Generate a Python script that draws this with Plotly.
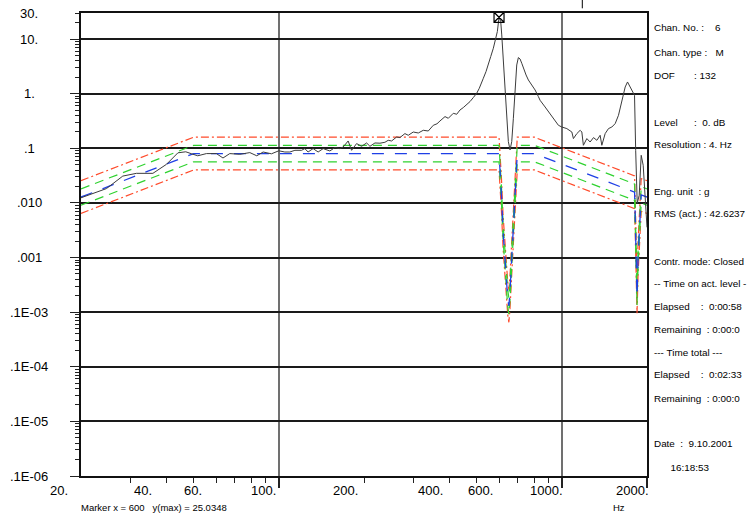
import math
import plotly.graph_objects as go

# ---------------- data ----------------
freq = [20, 24.6, 28.1, 31.4, 35.9, 40.1, 44.0, 46.9, 49.2, 51.7, 55.5, 60.2, 63.5, 67.1, 72.8, 79.0,
        83.6, 88.0, 94.2, 100, 105, 109.4, 114, 120.3, 123.6, 126.9, 132.2, 137.7, 143.5, 151.5, 157.8,
        164.3, 168.8, 175.8, 180.8, 188.3, 196.1, 204.3, 209.9, 218.6, 227.7, 237.1, 243.5, 250.4, 260.8,
        267.9, 279, 286.7, 298.6, 311.1, 323.9, 337.4, 351.4, 362.2, 371.1, 386.6, 397.1, 413.6, 425.2,
        436.8, 448.6, 461.3, 473.8, 486.7, 500.3, 511, 521.2, 528.1, 539.8, 550, 560.8, 572.9, 584.1,
        591.9, 600, 608.4, 613.5, 621.5, 630.2, 638.9, 647.3, 656.3, 665.4, 674.2, 683.6, 693, 702.2,
        712, 721.9, 735.5, 747.6, 761.8, 783.2, 804.6, 826.4, 837.9, 872.8, 909, 946.9, 972.7, 1000,
        1041.6, 1085, 1099, 1130, 1161, 1177, 1192, 1226, 1259, 1294, 1330, 1366, 1385, 1423, 1462,
        1503, 1544, 1586, 1631, 1675, 1707, 1769, 1807, 1824, 1847, 1877, 1908, 1939, 1971, 2000]
response = [0.0124, 0.0183, 0.0310, 0.0348, 0.0348, 0.0509, 0.0827, 0.0863, 0.0793, 0.0729, 0.0800,
            0.0800, 0.0664, 0.0800, 0.0776, 0.0834, 0.0729, 0.0855, 0.0793, 0.0900, 0.0855, 0.0855,
            0.0919, 0.0919, 0.0987, 0.0855, 0.0987, 0.0855, 0.0987, 0.0893, 0.1030, 0.0987, 0.1056,
            0.1361, 0.0919, 0.1219, 0.1088, 0.1251, 0.1088, 0.1251, 0.124, 0.1288, 0.1401, 0.1361,
            0.1611, 0.1570, 0.1858, 0.1730, 0.1988, 0.1906, 0.2136, 0.2074, 0.2637, 0.2810, 0.3162,
            0.3807, 0.3543, 0.4375, 0.4195, 0.5029, 0.5564, 0.6209, 0.7166, 0.8486, 1.017, 1.256,
            1.550, 1.915, 2.540, 3.355, 4.780, 6.784, 9.627, 13.72, 25.0348, 20.9, 11.89, 4.450,
            1.443, 0.4074, 0.1326, 0.0931, 0.1326, 0.3543, 1.256, 3.355, 4.583, 4.320, 3.605, 2.717,
            2.200, 1.782, 1.443, 1.169, 0.8850, 0.7571, 0.5707, 0.4319, 0.3256, 0.2637, 0.2455,
            0.2296, 0.1988, 0.1506, 0.1858, 0.2136, 0.1988, 0.1135, 0.1506, 0.1304, 0.1570, 0.1401,
            0.1730, 0.1135, 0.1858, 0.2296, 0.2455, 0.2834, 0.4022, 0.7047, 1.327, 1.638, 1.154,
            0.9348, 0.0919, 0.00983, 0.01378, 0.0744, 0.0488, 0.01378, 0.00357]
assert len(freq) == len(response), (len(freq), len(response))

profile_freq = [20, 50, 600, 604, 612, 620, 628, 636, 644, 650, 656, 664, 672, 680, 688, 696, 800,
                1808, 1820, 1832, 1844, 1860, 1876, 1892, 1908, 2000]
profile_val = [0.0128, 0.08, 0.08, 0.05, 0.014, 0.003, 0.001, 4.5e-4, 1.8e-4, 1.3e-4, 2.3e-4, 8e-4,
               0.0025, 0.007, 0.02, 0.08, 0.08, 0.0157, 0.004, 9e-4, 1.9e-4, 1e-3, 0.003, 0.007,
               0.0140, 0.0128]
alarm_db = 3.0
abort_db = 6.0

marker_x = 600
marker_y = 25.0348

x_major = [100, 1000, 2000]
x_minor = [30, 40, 50, 60, 70, 80, 90, 200, 300, 400, 500, 600, 700, 800, 900]
x_label_vals = [20, 40, 60, 100, 200, 400, 600, 1000, 2000]
x_label_text = ["20.", "40.", "60.", "100.", "200.", "400.", "600.", "1000.", "2000."]

y_major = [1e-7, 1e-6, 1e-5, 1e-4, 1e-3, 1e-2, 1e-1, 1, 10]
y_label_vals = [30, 10, 1, 0.1, 0.01, 0.001, 1e-4, 1e-5, 1e-6, 1e-7]
y_label_text = ["30.", "10.", "1.", ".1", ".010", ".001", ".1E-03", ".1E-04", ".1E-05", ".1E-06"]

info_text = [
    "Chan. No. :    6",
    "Chan. type :   M",
    "DOF       : 132",
    "Level      :  0. dB",
    "Resolution : 4. Hz",
    "Eng. unit  : g",
    "RMS (act.) : 42.6237",
    "Contr. mode: Closed",
    "-- Time on act. level -",
    "Elapsed    :  0:00:58",
    "Remaining  : 0:00:0",
    "--- Time total ---",
    "Elapsed    :  0:02:33",
    "Remaining  : 0:00:0",
    "Date  :  9.10.2001",
    "      16:18:53",
]
footer_text = "Marker x = 600   y(max) = 25.0348"
unit_text = "Hz"

# ---------------- styling / layout helpers ----------------
W, H = 749, 514
L, R, T, B = 81, 102, 13, 38
PW, PH = W - L - R, H - T - B
FONT = "Liberation Sans, Arial, Helvetica, sans-serif"
NB = "\u00a0"


def px_x(p):
    return (p - L) / PW


def px_y(p):
    return (H - B - p) / PH


def scaled(vals, db):
    k = 10 ** (db / 20.0)
    return [v * k for v in vals]


RED = "#ff4b2b"
GREEN = "#2fd22f"
BLUE = "#1f3fe6"

fig = go.Figure()
limit_specs = [
    (abort_db, RED, "8px,3px,2px,3px"),
    (-abort_db, RED, "8px,3px,2px,3px"),
    (alarm_db, GREEN, "9px,6px"),
    (-alarm_db, GREEN, "9px,6px"),
]
for db, col, dash in limit_specs:
    fig.add_trace(go.Scatter(x=profile_freq, y=scaled(profile_val, db), mode="lines",
                             line=dict(color=col, width=1.2, dash=dash), hoverinfo="skip"))
fig.add_trace(go.Scatter(x=profile_freq, y=profile_val, mode="lines",
                         line=dict(color=BLUE, width=1.3, dash="12px,11px"), hoverinfo="skip"))
fig.add_trace(go.Scatter(x=freq, y=response, mode="lines",
                         line=dict(color="#3c3c3c", width=1)))
fig.add_trace(go.Scatter(x=[marker_x], y=[marker_y], mode="markers", cliponaxis=False,
                         marker=dict(symbol="square-x-open", size=10, color="black",
                                     line=dict(color="black", width=1.2))))

y_minor = [m * 10 ** e for e in range(-7, 1) for m in range(2, 10)] + [20, 30]

fig.update_layout(
    width=W, height=H,
    margin=dict(l=L, r=R, t=T, b=B, pad=0),
    paper_bgcolor="white", plot_bgcolor="white",
    showlegend=False,
    font=dict(family=FONT, color="black"),
    xaxis=dict(type="log", range=[math.log10(20), math.log10(2000)],
               tickmode="array", tickvals=x_major, showticklabels=False,
               ticks="outside", ticklen=10, tickwidth=1.5, tickcolor="#222",
               showgrid=True, gridcolor="#707070", gridwidth=2,
               showline=True, linecolor="#111", linewidth=1.5, mirror=True, zeroline=False,
               minor=dict(tickmode="array", tickvals=x_minor, ticks="outside", ticklen=5,
                          tickwidth=1, tickcolor="#222", showgrid=False)),
    yaxis=dict(type="log", range=[-7, math.log10(30)],
               tickmode="array", tickvals=y_major, showticklabels=False,
               ticks="outside", ticklen=9, tickwidth=1.2, tickcolor="#222",
               showgrid=True, gridcolor="#1a1a1a", gridwidth=1.5,
               showline=True, linecolor="#111", linewidth=1.5, mirror=True, zeroline=False,
               minor=dict(tickmode="array", tickvals=y_minor, ticks="outside", ticklen=4,
                          tickwidth=1, tickcolor="#222", showgrid=False)),
)

ann = []
for v, t in zip(y_label_vals, y_label_text):
    ann.append(dict(x=px_x(29), xref="paper", y=math.log10(v), yref="y", text=t, showarrow=False,
                    xanchor="center", yanchor="middle", font=dict(size=13, family=FONT)))
x_label_shift = [-22, -23.5, -23, -15, -19, -18.5, -18.5, -15, -14.5]
for v, t, s in zip(x_label_vals, x_label_text, x_label_shift):
    ann.append(dict(x=math.log10(v), xref="x", y=px_y(490), yref="paper", text=t, showarrow=False,
                    xanchor="center", yanchor="middle", xshift=s, font=dict(size=13, family=FONT)))
info_y = [28, 52, 75, 122, 144, 191, 213, 261, 283, 306, 329, 352, 375, 398, 443, 467]
for t, py in zip(info_text, info_y):
    ann.append(dict(x=px_x(652), xref="paper", y=px_y(py), yref="paper", text=t.replace(" ", NB),
                    showarrow=False, xanchor="left", yanchor="middle", font=dict(size=9.9, family=FONT)))
ann.append(dict(x=px_x(80), xref="paper", y=px_y(507), yref="paper", text=footer_text.replace(" ", NB),
                showarrow=False, xanchor="left", yanchor="middle", font=dict(size=9.5, family=FONT),
                borderpad=0))
ann.append(dict(x=px_x(619), xref="paper", y=px_y(507), yref="paper", text=unit_text,
                showarrow=False, xanchor="center", yanchor="middle", font=dict(size=9.5, family=FONT),
                borderpad=0))
fig.update_layout(annotations=ann)

fig.add_shape(type="line", xref="paper", yref="paper", x0=px_x(582.3), x1=px_x(582.3),
              y0=px_y(8.3), y1=px_y(0), line=dict(color="black", width=1))

fig.write_html("out.html", config={"displayModeBar": False},
               post_script="document.body.style.margin='0';document.body.style.overflow='hidden';")
